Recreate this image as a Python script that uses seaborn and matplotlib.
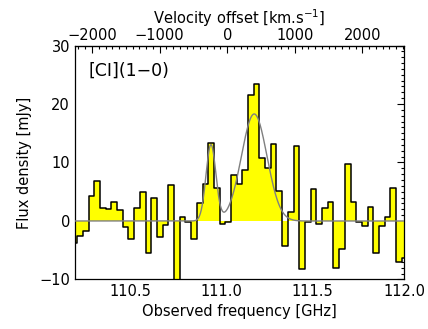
import numpy as np
import matplotlib
matplotlib.use("Agg")
import matplotlib.pyplot as plt
from matplotlib.ticker import MultipleLocator, FixedLocator
import seaborn as sns

# channel start frequencies [GHz] and flux density [mJy]
chan_freq = [110.178, 110.209, 110.240, 110.272, 110.303, 110.334, 110.365, 110.396,
             110.428, 110.459, 110.490, 110.521, 110.552, 110.584, 110.615, 110.646,
             110.677, 110.708, 110.740, 110.771, 110.802, 110.833, 110.864, 110.896,
             110.927, 110.958, 110.989, 111.020, 111.052, 111.083, 111.114, 111.145,
             111.176, 111.208, 111.239, 111.270, 111.301, 111.332, 111.364, 111.395,
             111.426, 111.457, 111.488, 111.520, 111.551, 111.582, 111.613, 111.644,
             111.676, 111.707, 111.738, 111.769, 111.800, 111.832, 111.863, 111.894,
             111.925, 111.956, 111.988, 112.019]
flux = [-3.7, -2.6, -1.7, 4.2, 6.9, 2.2, 2.1, 3.2, 1.9, -1.0,
        -3.1, 2.3, 4.9, -5.5, 4.0, -2.8, -0.7, 6.2, -12.0, 0.6,
        -0.1, -3.1, 3.1, 6.3, 13.4, 5.6, -0.5, -0.1, 7.9, 6.3,
        8.8, 21.5, 23.4, 10.7, 9.0, 13.1, 5.1, -4.2, 1.6, 12.9,
        -8.2, -0.2, 5.5, -0.6, 2.3, 3.2, -8.1, -4.8, 9.7, 3.2,
        -0.1, -0.9, 2.4, -5.4, -0.9, 0.6, 5.7, -7.0, -6.4]

# two-component gaussian fit (centre GHz, peak mJy, sigma GHz)
fit_center = [110.942, 111.179]
fit_peak = [13.0, 18.3]
fit_sigma = [0.027, 0.070]

vel_ticks = [-2000, -1000, 0, 1000, 2000]

f0 = 111.031  # zero velocity
c_kms = 299792.458

sns.set_style("white")
plt.rcParams['font.family'] = ['DejaVu Sans']
plt.rcParams['mathtext.fontset'] = 'dejavusans'
for key in ['text.color', 'axes.labelcolor', 'xtick.color', 'ytick.color', 'axes.edgecolor']:
    plt.rcParams[key] = 'black'

fig = plt.figure(figsize=(4.28, 3.29), dpi=100)
ax = fig.add_axes([0.1752, 0.1505, 0.7688, 0.7112])

x_edges = np.array(chan_freq)
y_steps = np.append(flux, flux[-1])

ax.fill_between(x_edges, y_steps, 0, step='post', color='#ffff00', linewidth=0, zorder=1)
sns.lineplot(x=x_edges, y=y_steps, drawstyle='steps-post', color='black',
             linewidth=1.1, estimator=None, ax=ax, zorder=2)

xf = np.linspace(110.1, 112.1, 800)
model = np.zeros_like(xf)
for c0, a0, s0 in zip(fit_center, fit_peak, fit_sigma):
    model += a0 * np.exp(-0.5 * ((xf - c0) / s0) ** 2)
sns.lineplot(x=xf, y=model, color='#808080', linewidth=1.0, estimator=None, ax=ax, zorder=3)

ax.set_xlim(110.197, 112.0)
ax.set_ylim(-10, 30)
ax.xaxis.set_major_locator(MultipleLocator(0.5))
ax.xaxis.set_minor_locator(MultipleLocator(0.1))
ax.yaxis.set_major_locator(MultipleLocator(10))
ax.yaxis.set_minor_locator(MultipleLocator(1))
ax.xaxis.set_major_formatter(plt.FuncFormatter(lambda v, p: f"{v:.1f}"))
ax.tick_params(which='both', direction='in', top=False, right=True, labelsize=10.5,
               width=0.8)
ax.tick_params(which='major', length=5)
ax.tick_params(which='minor', length=2.5)
for s in ax.spines.values():
    s.set_linewidth(0.9)

ax.set_xlabel('Observed frequency [GHz]', fontsize=10.5, labelpad=3)
ax.set_ylabel('Flux density [mJy]', fontsize=10.5, labelpad=5)


def f2v(f):
    return (f - f0) / f0 * c_kms


def v2f(v):
    return f0 * (1 + v / c_kms)


sec = ax.secondary_xaxis('top', functions=(f2v, v2f))
sec.xaxis.set_major_locator(FixedLocator(vel_ticks))
sec.xaxis.set_minor_locator(MultipleLocator(100))
sec.tick_params(which='both', direction='in', labelsize=10.5, width=0.8, pad=2)
sec.tick_params(which='major', length=5)
sec.tick_params(which='minor', length=2.5)
sec.set_xlabel('Velocity offset [km.s$^{-1}$]', fontsize=10.5, labelpad=3)

ax.text(0.04, 0.93, '[CI](1\u22120)', transform=ax.transAxes, fontsize=12.5,
        ha='left', va='top')

fig.savefig('out.png', dpi=100)
